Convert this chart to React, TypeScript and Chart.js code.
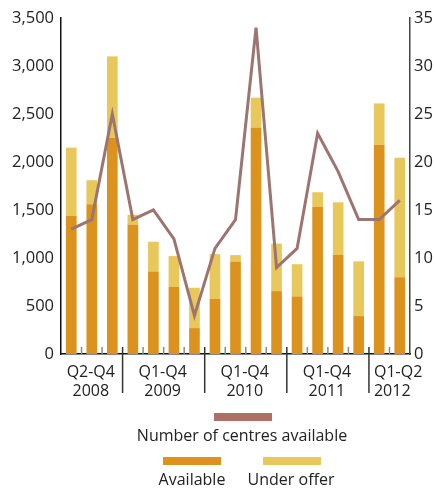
import React, { useEffect, useRef } from "react";
import { Chart, registerables } from "chart.js";

Chart.register(...registerables);

const categories = [
  "Q2 2008", "Q3 2008", "Q4 2008",
  "Q1 2009", "Q2 2009", "Q3 2009", "Q4 2009",
  "Q1 2010", "Q2 2010", "Q3 2010", "Q4 2010",
  "Q1 2011", "Q2 2011", "Q3 2011", "Q4 2011",
  "Q1 2012", "Q2 2012",
];
const available = [1440, 1560, 2250, 1350, 860, 700, 270, 575, 960, 2360, 655, 600, 1530, 1030, 395, 2180, 800];
const underOffer = [710, 250, 850, 100, 310, 320, 420, 465, 70, 310, 495, 335, 155, 550, 570, 430, 1245];
const centres = [13, 14, 25, 14, 15, 12, 4, 11, 14, 34, 9, 11, 23, 19, 14, 14, 16];

const groupLabels = [
  ["Q2-Q4", "2008"],
  ["Q1-Q4", "2009"],
  ["Q1-Q4", "2010"],
  ["Q1-Q4", "2011"],
  ["Q1-Q2", "2012"],
];
const groupSizes = [3, 4, 4, 4, 2];

const FONT = "'Open Sans', 'Noto Sans', sans-serif";
const TEXT = "#222222";
const C_AVAIL = "#dc931d";
const C_OFFER = "#e8c75b";
const C_LINE = "#9c7571";
const C_LINE_LEG = "#ae6f66";

const decorPlugin = {
  id: "decor",
  afterDatasetsDraw(chart: any) {
    const ctx = chart.ctx;
    const x = chart.scales.x;
    const area = chart.chartArea;
    const bottom = area.bottom;
    const n = categories.length;
    const boundaries: number[] = [];
    let acc = 0;
    groupSizes.forEach((s, i) => {
      acc += s;
      if (i < groupSizes.length - 1) boundaries.push(acc);
    });
    ctx.save();
    for (let i = 1; i < n; i++) {
      const px = (x.getPixelForValue(i - 1) + x.getPixelForValue(i)) / 2;
      const major = boundaries.includes(i);
      ctx.beginPath();
      ctx.strokeStyle = major ? "#333333" : "#8a8a8a";
      ctx.lineWidth = 1.5;
      ctx.moveTo(px, bottom - 7);
      ctx.lineTo(px, major ? bottom + 39 : bottom);
      ctx.stroke();
    }
    // group labels
    ctx.font = `16px ${FONT}`;
    ctx.fillStyle = TEXT;
    ctx.textBaseline = "alphabetic";
    let start = 0;
    groupSizes.forEach((s, gi) => {
      const first = x.getPixelForValue(start);
      const last = x.getPixelForValue(start + s - 1);
      const isLast = gi === groupSizes.length - 1;
      const cx = (first + last) / 2 - 1;
      if (isLast) {
        const left = (x.getPixelForValue(start - 1) + first) / 2 + 5;
        ctx.textAlign = "left";
        ctx.fillText(groupLabels[gi][0], left, bottom + 23);
        ctx.fillText(groupLabels[gi][1], left, bottom + 42);
      } else {
        ctx.textAlign = "center";
        ctx.fillText(groupLabels[gi][0], cx, bottom + 23);
        ctx.fillText(groupLabels[gi][1], cx, bottom + 42);
      }
      start += s;
    });
    ctx.restore();
  },
  afterDraw(chart: any) {
    const ctx = chart.ctx;
    const ds = chart.data.datasets;
    ctx.save();
    ctx.font = `16px ${FONT}`;
    ctx.fillStyle = TEXT;
    ctx.textBaseline = "alphabetic";
    ctx.textAlign = "center";
    // row 1: line
    ctx.fillStyle = C_LINE_LEG;
    ctx.fillRect(214, 413, 58, 8);
    ctx.fillStyle = TEXT;
    ctx.fillText(ds[2].label, 242, 441);
    // row 2
    ctx.fillStyle = ds[0].backgroundColor;
    ctx.fillRect(163, 457, 58, 8);
    ctx.fillStyle = ds[1].backgroundColor;
    ctx.fillRect(263, 457, 58, 8);
    ctx.fillStyle = TEXT;
    ctx.fillText(ds[0].label, 192, 485);
    ctx.fillText(ds[1].label, 291, 485);
    ctx.restore();
  },
};

export default function App() {
  const ref = useRef<HTMLCanvasElement | null>(null);
  useEffect(() => {
    if (!ref.current) return;
    const chart = new Chart(ref.current, {
      type: "bar",
      data: {
        labels: categories,
        datasets: [
          {
            type: "bar",
            label: "Available",
            data: available,
            backgroundColor: C_AVAIL,
            yAxisID: "y",
            stack: "s",
            order: 2,
            barPercentage: 1,
            categoryPercentage: 0.52,
          },
          {
            type: "bar",
            label: "Under offer",
            data: underOffer,
            backgroundColor: C_OFFER,
            yAxisID: "y",
            stack: "s",
            order: 2,
            barPercentage: 1,
            categoryPercentage: 0.52,
          },
          {
            type: "line",
            label: "Number of centres available",
            data: centres,
            borderColor: C_LINE,
            borderWidth: 3,
            pointRadius: 0,
            tension: 0,
            yAxisID: "y1",
            order: 0,
          } as any,
        ],
      },
      options: {
        animation: false,
        responsive: false,
        maintainAspectRatio: false,
        layout: { padding: { top: 18, left: 0, right: 0, bottom: 0 } },
        plugins: { legend: { display: false }, tooltip: { enabled: false } },
        scales: {
          x: {
            stacked: true,
            grid: { display: false, drawTicks: false },
            border: { display: true, color: "#111111", width: 1.5 },
            ticks: { display: false },
            afterFit: (s: any) => {
              s.height = 134;
            },
          },
          y: {
            position: "left",
            stacked: true,
            min: 0,
            max: 3500,
            grid: { display: false, drawTicks: false },
            border: { display: true, color: "#111111", width: 1.5 },
            ticks: {
              stepSize: 500,
              padding: 7,
              color: TEXT,
              font: { family: FONT, size: 16.5 },
              callback: (v: any) => Number(v).toLocaleString("en-US"),
            },
            afterFit: (s: any) => {
              s.width = 61;
            },
          },
          y1: {
            position: "right",
            min: 0,
            max: 35,
            grid: { display: false, drawTicks: false },
            border: { display: true, color: "#444444", width: 1.5 },
            ticks: {
              stepSize: 5,
              padding: 4,
              color: TEXT,
              font: { family: FONT, size: 16.5 },
            },
            afterFit: (s: any) => {
              s.width = 25;
            },
          },
        },
      },
      plugins: [decorPlugin],
    });
    return () => chart.destroy();
  }, []);
  return (
    <div style={{ position: "fixed", left: 0, top: 0, width: 435, height: 488, background: "#ffffff" }}>
      <canvas ref={ref} width={435} height={488} style={{ width: 435, height: 488, display: "block" }} />
    </div>
  );
}
